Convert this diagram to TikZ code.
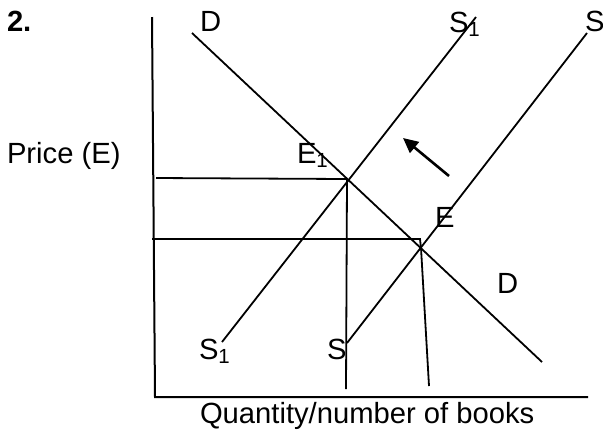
\documentclass[tikz,border=0pt]{standalone}
\usepackage{fontspec}
\setmainfont{Liberation Sans}
\usetikzlibrary{arrows.meta}

\tikzset{
  lbl/.style={anchor=base west, inner sep=0pt, font=\fontsize{14.6}{17}\selectfont},
  curve/.style={line width=0.9pt},
  guide/.style={line width=0.9pt}
}

\begin{document}
\begin{tikzpicture}[x=0.5pt, y=-0.5pt, line width=1pt, >={Triangle[length=7.5pt,width=7pt]}]
  \useasboundingbox (0,0) rectangle (603,430);

  % Hai trục
  \coordinate (ytop) at (152,17);
  \coordinate (O) at (155,397);
  \coordinate (xend) at (588,397);
  \draw (ytop) -- (O) -- (xend);

  % Đường cầu D, cung S và S1
  \coordinate (Dtop) at (192,33);
  \coordinate (Dbot) at (542,362);
  \coordinate (S1top) at (476,17);
  \coordinate (S1bot) at (222,342);
  \coordinate (Stop) at (587,33);
  \coordinate (Sbot) at (347,343);
  \draw[curve] (Dtop) -- (Dbot);
  \draw[curve] (S1top) -- (S1bot);
  \draw[curve] (Stop) -- (Sbot);

  % Điểm cân bằng E1 và E
  \coordinate (E1) at (347,179);
  \coordinate (E) at (421,248);
  \draw[guide] (156,178) -- (E1) -- (346,389);
  \draw[guide] (152,239) -- (420,239) -- (E) -- (429,386);

  % Mũi tên dịch chuyển
  \draw[->, line width=1.3pt] (449,176) -- (403,138);

  % Nhãn
  \node[lbl] (num) at (6,31) {\textbf{2.}};
  \node[lbl] (Dlabtop) at (199,31) {D};
  \node[lbl] (S1labtop) at (448,32) {S\textsubscript{1}};
  \node[lbl] (Slabtop) at (584,31) {S};
  \node[lbl] (price) at (6,163) {Price (E)};
  \node[lbl] (E1lab) at (296,163) {E\textsubscript{1}};
  \node[lbl] (Elab) at (434,227) {E};
  \node[lbl] (Dlabbot) at (496,293) {D};
  \node[lbl] (S1labbot) at (198,359) {S\textsubscript{1}};
  \node[lbl] (Slabbot) at (326,359) {S};
  \node[lbl] (qty) at (199,423) {Quantity/number of books};
\end{tikzpicture}
\end{document}
